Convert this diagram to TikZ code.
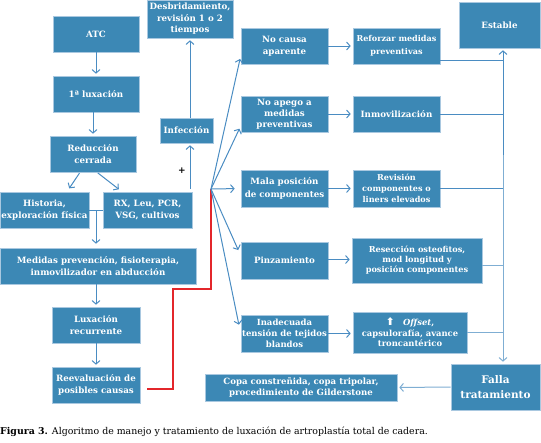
\documentclass[tikz,border=0pt]{standalone}
\usepackage{fontspec}
\setmainfont{DejaVu Serif}
\newfontfamily\flechafont{DejaVu Sans}
\usetikzlibrary{arrows.meta}
\definecolor{cajaAzul}{HTML}{3C88B5}
\definecolor{cajaBorde}{HTML}{A9C8E0}
\definecolor{lineaAzul}{HTML}{4A8CC2}
\definecolor{lineaClara}{HTML}{7FAED3}
\definecolor{lineaRoja}{HTML}{E3262B}

\tikzset{
  caja/.style={fill=cajaAzul, draw=cajaBorde, line width=0.6pt, text=white,
    align=center, inner sep=1pt, minimum width=87pt, minimum height=36pt,
    font=\fontsize{8.7}{12.5}\selectfont\bfseries},
  flecha/.style={draw=lineaAzul, line width=1pt,
    -{Straight Barb[length=3.5pt,width=8pt]}, shorten >=2pt},
  linea/.style={draw=lineaAzul, line width=1pt}
}

\begin{document}
\begin{tikzpicture}[x=1pt, y=-1pt]
  \useasboundingbox (0,0) rectangle (541,442);
  % columna izquierda
  \node[caja, minimum width=86pt] (atc) at (96,34) {ATC};
  \node[caja, minimum width=86pt] (lux1) at (96,94) {1ª luxación};
  \node[caja, minimum width=86pt] (reduccion) at (93,154) {Reducción\\cerrada};
  \node[caja, minimum width=89pt] (historia) at (44.5,210) {Historia,\\exploración física};
  \node[caja, minimum width=89pt] (rx) at (147.5,210) {RX, Leu, PCR,\\VSG, cultivos};
  \node[caja, minimum width=196pt] (medidas) at (98,266) {Medidas prevención, fisioterapia,\\inmovilizador en abducción};
  \node[caja, minimum width=88pt] (recurrente) at (96,325) {Luxación\\recurrente};
  \node[caja, minimum width=88pt] (reevaluacion) at (96,385) {Reevaluación de\\posibles causas};
  \node[caja, minimum width=53pt, minimum height=25pt] (infeccion) at (186.5,130.5) {Infección};
  \node[caja, minimum width=86pt, minimum height=38pt, font=\fontsize{8.7}{11.5}\selectfont\bfseries] (desbrid) at (190,19) {Desbridamiento,\\revisión 1 o 2\\tiempos};
  \node[font=\bfseries\fontsize{9}{9}\selectfont] (mas) at (182,171) {+};
  % causas
  \node[caja] (nocausa) at (284.5,46) {No causa\\aparente};
  \node[caja, font=\fontsize{8.7}{11}\selectfont\bfseries] (noapego) at (284.5,114) {No apego a\\medidas\\preventivas};
  \node[caja, minimum height=37pt] (malapos) at (284.5,188.5) {Mala posición\\de componentes};
  \node[caja, minimum height=37pt] (pinza) at (284.5,260.5) {Pinzamiento};
  \node[caja, minimum height=37pt, font=\fontsize{8.5}{11}\selectfont\bfseries] (tension) at (284.5,333.5) {Inadecuada\\tensión de tejidos\\blandos};
  % tratamientos
  \node[caja, font=\fontsize{8.1}{13}\selectfont\bfseries] (reforzar) at (396.5,46) {Reforzar medidas\\preventivas};
  \node[caja] (inmov) at (396.5,114) {Inmovilización};
  \node[caja, minimum height=37pt, font=\fontsize{8.1}{11}\selectfont\bfseries] (revision) at (396.5,188.5) {Revisión\\componentes o\\liners elevados};
  \node[caja, minimum width=130pt, minimum height=45pt, font=\fontsize{8.2}{10}\selectfont\bfseries] (reseccion) at (417,260.5) {Resección osteofitos,\\mod longitud y\\posición componentes};
  \node[caja, minimum width=114pt, minimum height=41pt, font=\fontsize{8.4}{10.5}\selectfont\bfseries] (offset) at (410,332.5) {{\flechafont\fontsize{10.5}{10.5}\selectfont ⬆}\quad\textit{Offset},\\capsulorafía, avance\\troncantérico};
  \node[caja, minimum width=81pt, minimum height=46pt] (estable) at (499.5,25) {Estable};
  \node[caja, minimum width=89pt, minimum height=46pt, font=\fontsize{10.5}{15}\selectfont\bfseries] (falla) at (495.5,387) {Falla\\tratamiento};
  \node[caja, minimum width=192pt, minimum height=27pt, font=\fontsize{8.6}{10.5}\selectfont\bfseries] (copa) at (301,387.5) {Copa constreñida, copa tripolar,\\procedimiento de Gilderstone};

  \coordinate (union) at (96,210);
  \coordinate (abanico) at (211,189);
  \coordinate (tronco) at (503,155);

  % flujo principal
  \draw[flecha] (atc) -- (lux1);
  \draw[flecha] (reduccion.north |- lux1.south) -- (reduccion.north);
  \draw[flecha, shorten <=1pt, shorten >=4pt] ([xshift=-13pt]reduccion.south) -- ([xshift=22.5pt]historia.north);
  \draw[flecha, shorten <=1pt, shorten >=4pt] ([xshift=4pt]reduccion.south) -- ([xshift=-25.5pt]rx.north);
  \draw[linea] (historia.east) -- (rx.west);
  \draw[flecha, shorten >=4pt] (union) -- (union |- medidas.north);
  \draw[flecha] (recurrente.north |- medidas.south) -- (recurrente.north);
  \draw[flecha] (recurrente) -- (reevaluacion);
  \draw[flecha, shorten <=3pt] ([xshift=42.5pt]rx.north) -- ([xshift=3.5pt]infeccion.south);
  \draw[flecha] ([xshift=3.5pt]infeccion.north) -- (desbrid.south);
  \draw[color=lineaRoja, line width=1.1pt] ([xshift=7pt,yshift=-4pt]reevaluacion.east) -| (173,289) -| (abanico);

  % abanico de causas
  \draw[flecha, shorten >=3pt] (abanico) -- ([yshift=-10pt]nocausa.west);
  \draw[flecha, shorten >=3pt] (abanico) -- ([yshift=-12pt]noapego.west);
  \draw[flecha, shorten >=6pt] (abanico) -- (malapos.west);
  \draw[flecha, shorten >=6pt] (abanico) -- ([yshift=5pt]pinza.west);
  \draw[flecha, shorten >=9pt] (abanico) -- (tension.west);

  % causa -> tratamiento
  \draw[flecha] (nocausa) -- (reforzar);
  \draw[flecha] (noapego) -- (inmov);
  \draw[flecha] (malapos) -- (revision);
  \draw[flecha] ([yshift=1pt]pinza.east) -- ([yshift=1pt]pinza.east -| reseccion.west);
  \draw[flecha] (tension) -- (tension -| offset.west);

  % tronco final
  \draw[linea] ([yshift=-14pt]reforzar.east) -- ([yshift=-14pt]reforzar.east -| tronco);
  \draw[linea] (inmov.east) -- (inmov.east -| tronco);
  \draw[linea] (revision.east) -- (revision.east -| tronco);
  \draw[linea, draw=lineaClara] ([yshift=-5pt]reseccion.east) -- ([yshift=-5pt]reseccion.east -| tronco);
  \draw[linea, draw=lineaClara] (offset.east) -- (offset.east -| tronco);
  \draw[flecha] (tronco) -- (tronco |- estable.south);
  \draw[flecha, draw=lineaClara] (tronco) -- (tronco |- falla.north);
  \draw[flecha, draw=lineaClara] (falla.west) -- (copa.east);

  % pie de figura
  \node[anchor=west, inner sep=0pt, font=\fontsize{9.4}{11}\selectfont] (pie) at (0,432)
    {\textbf{Figura 3.} Algoritmo de manejo y tratamiento de luxación de artroplastía total de cadera.};
\end{tikzpicture}
\end{document}
